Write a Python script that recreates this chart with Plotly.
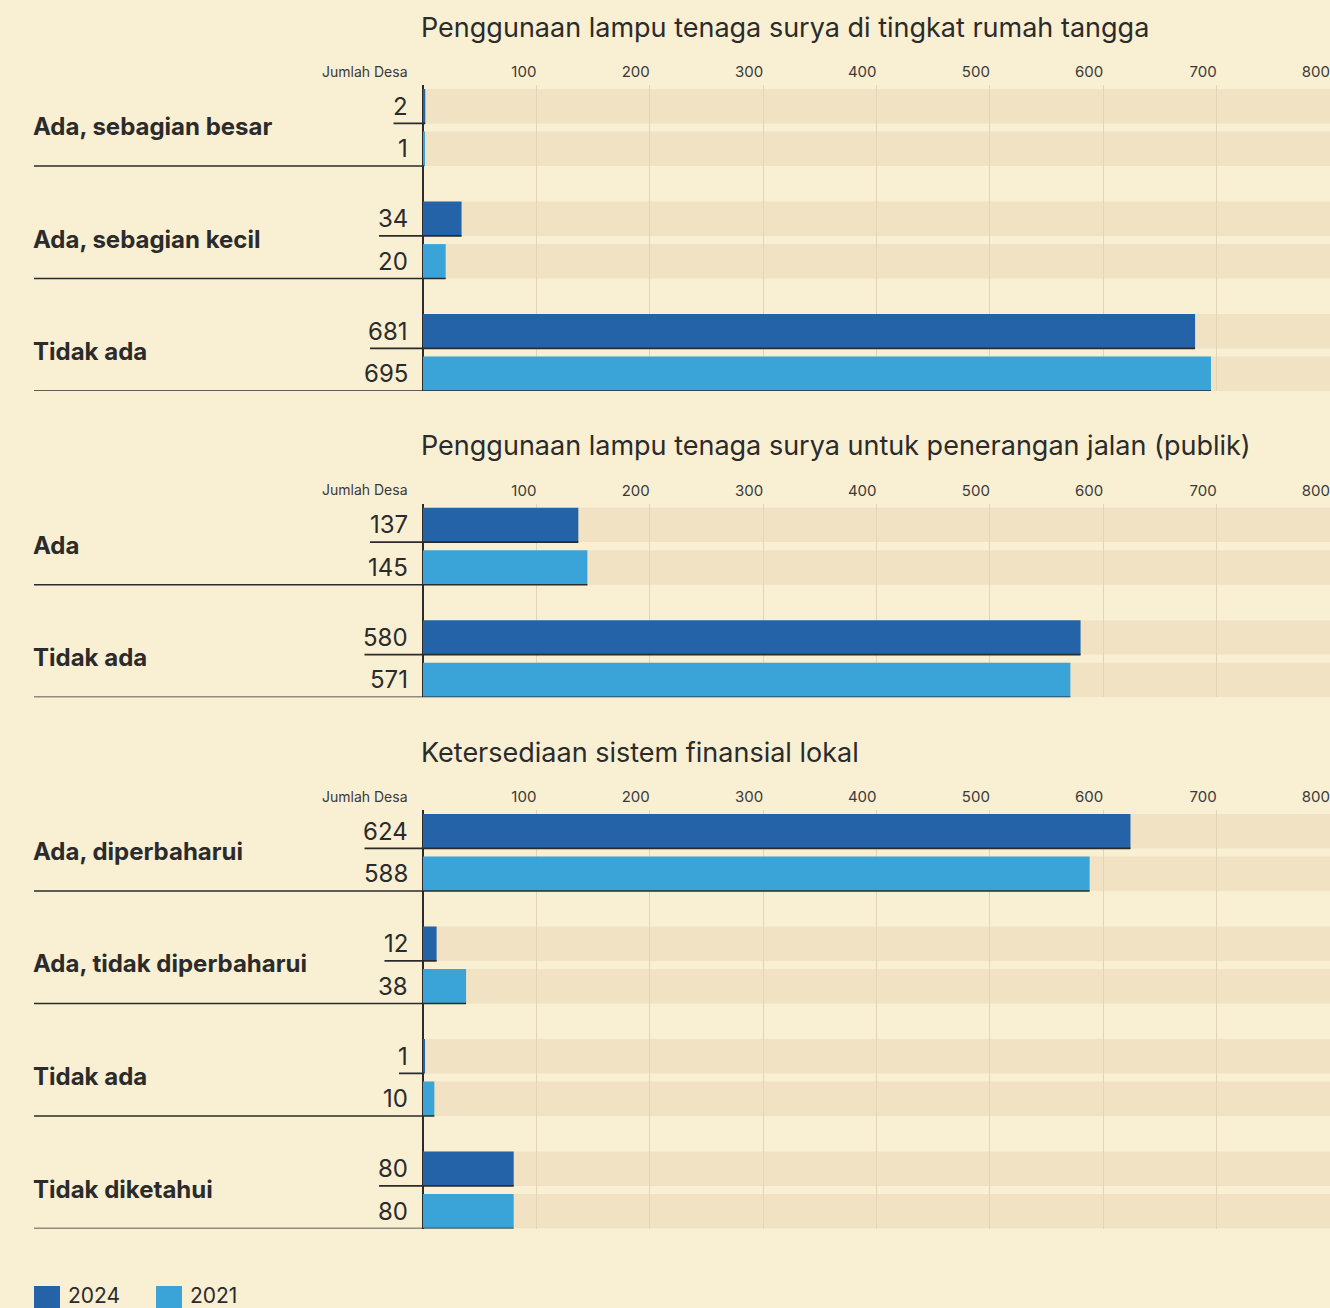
import plotly.graph_objects as go

# ---------------- data ----------------
titles = [
    "Penggunaan lampu tenaga surya di tingkat rumah tangga",
    "Penggunaan lampu tenaga surya untuk penerangan jalan (publik)",
    "Ketersediaan sistem finansial lokal",
]
cats_1 = ["Ada, sebagian besar", "Ada, sebagian kecil", "Tidak ada"]
v2024_1 = [2, 34, 681]
v2021_1 = [1, 20, 695]

cats_2 = ["Ada", "Tidak ada"]
v2024_2 = [137, 580]
v2021_2 = [145, 571]

cats_3 = ["Ada, diperbaharui", "Ada, tidak diperbaharui", "Tidak ada", "Tidak diketahui"]
v2024_3 = [624, 12, 1, 80]
v2021_3 = [588, 38, 10, 80]

series_names = ["2024", "2021"]
tick_values = [100, 200, 300, 400, 500, 600, 700, 800]
axis_label = "Jumlah Desa"

panels = [
    (titles[0], cats_1, v2024_1, v2021_1),
    (titles[1], cats_2, v2024_2, v2021_2),
    (titles[2], cats_3, v2024_3, v2021_3),
]

# ---------------- style / layout ----------------
W, H = 1330, 1308
BG = "#f9efd3"
BAND = "#f0e2c3"
GRID = "#e2d4b6"
INK = "#2b2b2b"
C2024 = "#2563a9"
C2021 = "#3aa4d8"
FONT = "Inter"

AX0_PX = 423          # pixel of value 0
XMAX = 800
K = (W - AX0_PX) / XMAX
XMIN = -AX0_PX / K

PITCH = 112.5         # px per group
BAR_H = 34.4 / PITCH  # bar thickness in group units
OFF2 = 42.6 / PITCH   # offset of second bar
GRP_END = OFF2 + BAR_H
TOP_PAD = 4 / PITCH
panel_tops = [89, 507.7, 814]   # pixel of first bar top
LABEL_RIGHT = 410


def xd(px):
    return (px - AX0_PX) / K


def py(px):
    return 1 - px / H


def text_w(s):
    return sum(9 if ch == "1" else 14.5 for ch in s)


fig = go.Figure()
layout_axes = {}
shapes = []
annotations = []

for p, (title, cats, a, b) in enumerate(panels):
    n = len(cats)
    xa = "x" if p == 0 else f"x{p+1}"
    ya = "y" if p == 0 else f"y{p+1}"
    xkey = "xaxis" if p == 0 else f"xaxis{p+1}"
    ykey = "yaxis" if p == 0 else f"yaxis{p+1}"
    top = panel_tops[p]
    dom_top = top - 4
    dom_bot = top + (n - 1) * PITCH + GRP_END * PITCH

    pos = list(range(n))
    fig.add_trace(go.Bar(orientation="h", x=a, y=pos, offset=0, width=BAR_H,
                         marker=dict(color=C2024, line=dict(width=0)),
                         name=series_names[0], showlegend=False,
                         xaxis=xa, yaxis=ya, hoverinfo="x"))
    fig.add_trace(go.Bar(orientation="h", x=b, y=pos, offset=OFF2, width=BAR_H,
                         marker=dict(color=C2021, line=dict(width=0)),
                         name=series_names[1], showlegend=False,
                         xaxis=xa, yaxis=ya, hoverinfo="x"))

    layout_axes[xkey] = dict(
        domain=[0, 1], range=[XMIN, XMAX], anchor=ya, side="top",
        tickvals=tick_values, ticktext=[str(t) for t in tick_values],
        ticklabelposition="outside left", ticks="", ticklabelstandoff=4,
        tickfont=dict(family=FONT, size=15, color="#3a3a3a"),
        showgrid=True, gridcolor=GRID, gridwidth=1,
        zeroline=True, zerolinecolor=INK, zerolinewidth=1.6,
        showline=False, fixedrange=True,
    )
    layout_axes[ykey] = dict(
        domain=[py(dom_bot), py(dom_top)], anchor=xa,
        range=[n - 1 + GRP_END, -TOP_PAD],
        showgrid=False, zeroline=False, showticklabels=False, ticks="",
        showline=False, fixedrange=True,
    )

    # title
    annotations.append(dict(xref="paper", yref="paper", x=419 / W, y=py(top - 62),
                            xanchor="left", yanchor="middle", showarrow=False,
                            text=title, font=dict(family=FONT, size=27, color=INK)))
    # axis caption
    annotations.append(dict(xref="paper", yref="paper", x=LABEL_RIGHT / W, y=py(top - 18),
                            xanchor="right", yanchor="middle", showarrow=False,
                            text=axis_label, font=dict(family=FONT, size=14, color="#3a3a3a")))

    for i, cat in enumerate(cats):
        # background bands
        for off in (0, OFF2):
            shapes.append(dict(type="rect", xref=xa, yref=ya, layer="below",
                               x0=0, x1=XMAX, y0=i + off, y1=i + off + BAR_H,
                               fillcolor=BAND, line=dict(width=0)))
        # category label
        annotations.append(dict(xref="paper", yref=ya, x=31 / W, y=i + GRP_END / 2 - 1 / PITCH,
                                xanchor="left", yanchor="middle", showarrow=False,
                                text=f"<b>{cat}</b>",
                                font=dict(family=FONT, size=24, color=INK)))
        # value labels
        for off, val in ((0, a[i]), (OFF2, b[i])):
            annotations.append(dict(xref=xa, yref=ya, x=xd(LABEL_RIGHT), y=i + off + BAR_H / 2,
                                    xanchor="right", yanchor="middle", showarrow=False,
                                    text=str(val),
                                    font=dict(family=FONT, size=24, color=INK)))
        # underline of first bar: from label start to bar end
        shapes.append(dict(type="line", xref=xa, yref=ya, layer="above",
                           x0=xd(408 - text_w(str(a[i]))), x1=max(a[i], 0),
                           y0=i + BAR_H, y1=i + BAR_H,
                           line=dict(color=INK, width=1.6)))
        # separator under second bar
        shapes.append(dict(type="line", xref=xa, yref=ya, layer="above",
                           x0=xd(34), x1=max(b[i], 0),
                           y0=i + GRP_END, y1=i + GRP_END,
                           line=dict(color=INK, width=1.6)))

# legend (drawn)
leg_items = [(series_names[0], C2024, 34), (series_names[1], C2021, 156)]
for name, col, x0 in leg_items:
    shapes.append(dict(type="rect", xref="paper", yref="paper",
                       x0=x0 / W, x1=(x0 + 26) / W, y0=py(1310), y1=py(1286),
                       fillcolor=col, line=dict(width=0)))
    annotations.append(dict(xref="paper", yref="paper", x=(x0 + 32) / W, y=py(1295),
                            xanchor="left", yanchor="middle", showarrow=False,
                            text=name, font=dict(family=FONT, size=21, color=INK)))

fig.update_layout(
    width=W, height=H,
    margin=dict(l=0, r=0, t=0, b=0, pad=0),
    paper_bgcolor=BG, plot_bgcolor=BG,
    barmode="overlay", showlegend=False,
    font=dict(family=FONT, color=INK),
    shapes=shapes, annotations=annotations,
    **layout_axes,
)

fig.write_html(
    "out.html",
    config={"displayModeBar": False},
    post_script="document.body.style.margin='0';document.documentElement.style.overflow='hidden';",
)
